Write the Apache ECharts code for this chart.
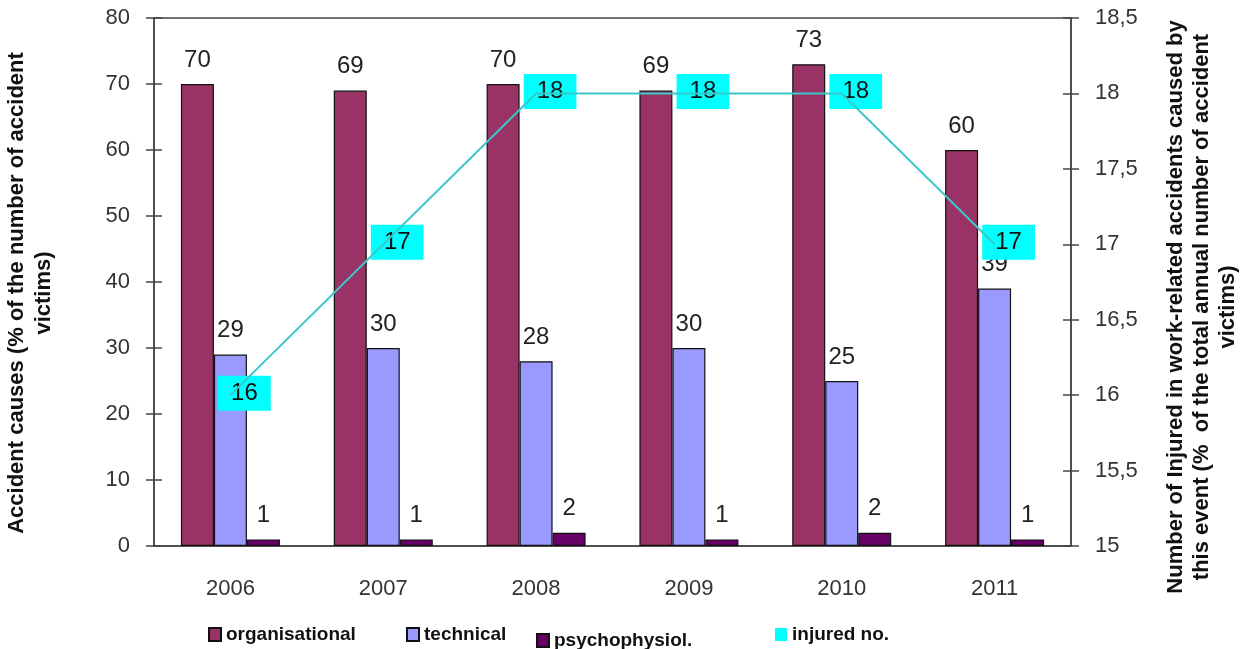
<!DOCTYPE html>
<html>
<head>
<meta charset="utf-8">
<title>Accident causes and injured</title>
<script src="https://cdn.jsdelivr.net/npm/echarts@6/dist/echarts.min.js"></script>
<style>
  html, body { margin: 0; padding: 0; background: #fff; }
  #chart { width: 1251px; height: 649px; }
</style>
</head>
<body>
<div id="chart"></div>
<script>
// Years on the category axis
const years = ['2006', '2007', '2008', '2009', '2010', '2011'];
// Accident causes, % of the number of accident victims (left axis)
const organisational = [70, 69, 70, 69, 73, 60];
const technical = [29, 30, 28, 30, 25, 39];
const psychophysiol = [1, 1, 2, 1, 2, 1];
// Injured in work-related accidents, % of total annual victims (right axis)
const injured = [16, 17, 18, 18, 18, 17];

const leftTicks = { min: 0, max: 80, interval: 10 };
const rightTicks = { min: 15, max: 18.5, interval: 0.5 };

const font = 'Liberation Sans, Arial, sans-serif';
const axisColor = '#444';
const lineColor = '#3CC8C8';

const barLabel = {
  show: true,
  position: 'top',
  distance: 12,
  fontSize: 24,
  fontFamily: font,
  color: '#222'
};

function barSeries(name, data, color) {
  return {
    name: name,
    type: 'bar',
    yAxisIndex: 0,
    data: data,
    barWidth: 33,
    barGap: '0%',
    itemStyle: { color: color, borderColor: '#111', borderWidth: 1.2 },
    label: barLabel,
    emphasis: { disabled: true }
  };
}

const chart = echarts.init(document.getElementById('chart'));
chart.setOption({
  animation: false,
  backgroundColor: '#fff',
  textStyle: { fontFamily: font },
  grid: {
    left: 154, right: 180, top: 18, bottom: 103,
    containLabel: false,
    outerBoundsMode: 'none',
    show: true, borderColor: axisColor, borderWidth: 1.5, backgroundColor: 'transparent'
  },
  legend: [
    { data: [{ name: 'organisational', icon: 'rect' }], left: 203, top: 620 },
    { data: [{ name: 'technical', icon: 'rect' }], left: 401, top: 620 },
    { data: [{ name: 'psychophysiol.', icon: 'rect' }], left: 531, top: 626 },
    { data: [{ name: 'injured no.', icon: 'rect', itemStyle: { color: '#00FFFF' } }], left: 770, top: 620 }
  ].map(l => Object.assign({
    itemWidth: 12, itemHeight: 13, itemGap: 10, selectedMode: false,
    textStyle: { fontSize: 19, fontWeight: 'bold', color: '#111', fontFamily: font }
  }, l)),
  xAxis: {
    type: 'category',
    data: years,
    axisLine: { lineStyle: { color: axisColor, width: 1.5 } },
    axisTick: { show: false },
    axisLabel: { fontSize: 22, color: '#333', margin: 32, fontFamily: font }
  },
  yAxis: [
    {
      type: 'value',
      position: 'left',
      min: leftTicks.min, max: leftTicks.max, interval: leftTicks.interval,
      name: 'Accident causes (% of the number of accident\nvictims)',
      nameLocation: 'middle',
      nameRotate: 90,
      nameGap: 97,
      nameTextStyle: { fontSize: 22, fontWeight: 'bold', color: '#111', lineHeight: 27, align: 'center', padding: [0, 22, 0, 0] },
      axisLine: { show: true, lineStyle: { color: axisColor, width: 1.5 } },
      axisTick: { show: true, length: 8, lineStyle: { color: axisColor, width: 1.5 } },
      axisLabel: { fontSize: 22, color: '#333', margin: 24, fontFamily: font },
      splitLine: { show: false }
    },
    {
      type: 'value',
      position: 'right',
      min: rightTicks.min, max: rightTicks.max, interval: rightTicks.interval,
      name: 'Number of Injured in work-related accidents caused by\nthis event (%  of the total annual number of accident\nvictims)',
      nameLocation: 'middle',
      nameRotate: 90,
      nameGap: 92,
      nameTextStyle: { fontSize: 22, fontWeight: 'bold', color: '#111', lineHeight: 26, align: 'center', padding: [0, 50, 0, 0] },
      axisLine: { show: true, lineStyle: { color: axisColor, width: 1.5 } },
      axisTick: { show: true, length: 8, lineStyle: { color: axisColor, width: 1.5 } },
      axisLabel: {
        fontSize: 22, color: '#333', margin: 24, fontFamily: font,
        formatter: v => String(v).replace('.', ',')
      },
      splitLine: { show: false }
    },
    {
      // inner half of the left ticks
      type: 'value', position: 'left',
      min: leftTicks.min, max: leftTicks.max, interval: leftTicks.interval,
      axisLine: { show: false },
      axisTick: { show: true, inside: true, length: 8, lineStyle: { color: axisColor, width: 1.5 } },
      axisLabel: { show: false }, splitLine: { show: false }
    },
    {
      // inner half of the right ticks
      type: 'value', position: 'right',
      min: rightTicks.min, max: rightTicks.max, interval: rightTicks.interval,
      axisLine: { show: false },
      axisTick: { show: true, inside: true, length: 8, lineStyle: { color: axisColor, width: 1.5 } },
      axisLabel: { show: false }, splitLine: { show: false }
    }
  ],
  series: [
    barSeries('organisational', organisational, '#993366'),
    barSeries('technical', technical, '#9999FF'),
    barSeries('psychophysiol.', psychophysiol, '#660066'),
    {
      // value boxes of the injured series
      name: 'injured no.',
      type: 'line',
      yAxisIndex: 1,
      data: injured,
      symbol: 'rect',
      symbolSize: 1,
      itemStyle: { color: '#00FFFF' },
      lineStyle: { opacity: 0 },
      label: {
        show: true,
        position: 'inside',
        offset: [14, -2],
        fontSize: 24,
        color: '#111',
        fontFamily: font,
        backgroundColor: '#00FFFF',
        padding: [6, 13, 5, 13]
      },
      z: 4,
      emphasis: { disabled: true }
    },
    {
      // injured polyline, drawn over its value boxes
      name: 'injured no.',
      type: 'line',
      yAxisIndex: 1,
      data: injured,
      symbol: 'none',
      itemStyle: { color: '#00FFFF' },
      lineStyle: { color: lineColor, width: 2 },
      z: 8,
      zlevel: 1,
      emphasis: { disabled: true }
    }
  ]
});
</script>
</body>
</html>
